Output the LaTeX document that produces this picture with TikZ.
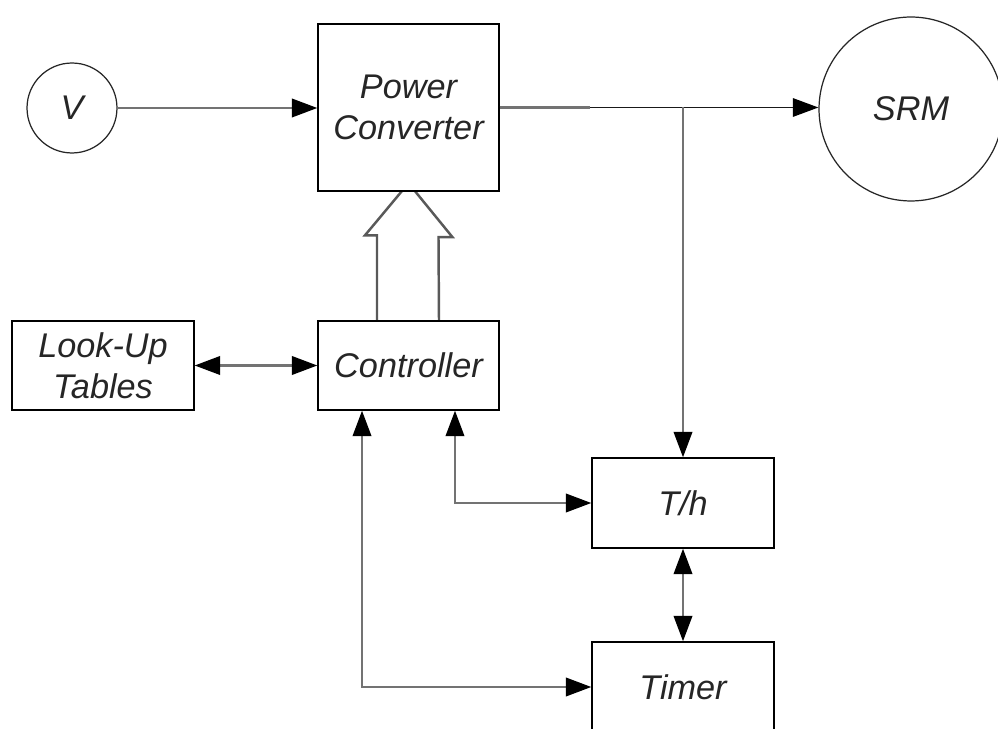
\documentclass[tikz,border=0pt]{standalone}
\usepackage{fontspec}
\setmainfont{Liberation Sans}
\usetikzlibrary{arrows.meta,backgrounds,calc}
\tikzset{
  blockbox/.style={draw=black, line width=0.8pt, fill=white, text=black!85,
    minimum width=3.62cm, minimum height=1.78cm, inner sep=0pt, align=center,
    font=\fontsize{19.5}{23.5}\selectfont\itshape},
  srcircle/.style={draw=black!85, line width=0.7pt, circle, fill=white, text=black!85,
    inner sep=0pt, font=\fontsize{19.5}{23.5}\selectfont\itshape},
  conn/.style={draw=black!55, line width=1.4pt},
  tip/.tip={Triangle[length=14.5pt,width=10.5pt,color=black]},
  arr/.style={conn, -tip},
  dbl/.style={conn, tip-tip},
  hollow/.style={draw=black!65, line width=1.4pt, fill=white, line join=miter}
}
\begin{document}
\begin{tikzpicture}[x=0.02cm, y=-0.02cm]
\useasboundingbox (0,0) rectangle (998,729);

\node[srcircle, minimum size=1.8cm] (V) at (72,108) {V};
\node[blockbox, minimum height=3.34cm] (PC) at (408.5,107.5) {Power\\Converter};
\node[srcircle, minimum size=3.68cm] (SRM) at (911,109) {SRM};
\node[blockbox] (Ctrl) at (408.5,365.5) {Controller};
\node[blockbox, minimum width=3.64cm] (LUT) at (103,365.5) {Look-Up\\Tables};
\node[blockbox, minimum width=3.64cm, minimum height=1.8cm] (Th) at (683,503) {T/h};
\node[blockbox, minimum width=3.64cm, minimum height=1.8cm] (Timer) at (683,687) {Timer};

\coordinate (br) at (683,107.5);
\coordinate (mid) at (590,107.5);

% power path
\draw[arr] (V.east) -- (V.east -| PC.west);
\draw[conn] (PC.east) -- (mid);
\draw[draw=black!90, line width=0.9pt] (mid) -- (br);
\draw[draw=black!90, line width=0.9pt, -tip] (br) -- (br -| SRM.west);
\draw[arr] (br) -- (Th.north);

% hollow control arrow (behind the converter box)
\begin{pgfonlayer}{background}
\draw[hollow] ([xshift=-0.63cm]Ctrl.north) -- ++(0,-85) -- ++(-12,0)
  -- ([yshift=0.17cm]PC.south) -- ++(44,54) -- ++(-14,0)
  -- ([xshift=0.61cm]Ctrl.north);
\end{pgfonlayer}

% data links
\draw[dbl] (LUT.east) -- (Ctrl.west);
\draw[dbl] ([xshift=0.93cm]Ctrl.south) |- (Th.west);
\draw[dbl] ([xshift=-0.93cm]Ctrl.south) |- (Timer.west);
\draw[dbl] (Th.south) -- (Timer.north);
\end{tikzpicture}
\end{document}
